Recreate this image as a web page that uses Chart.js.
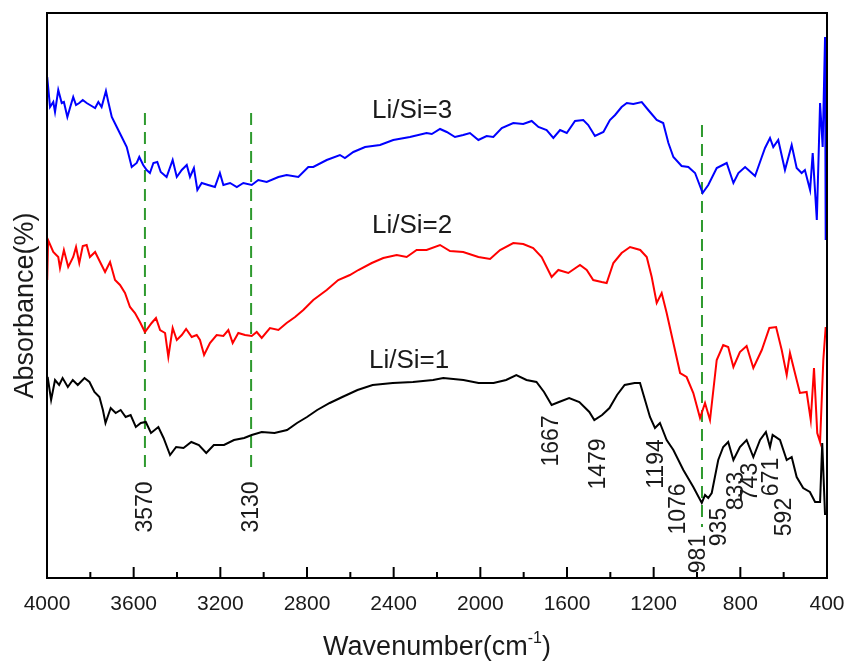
<!DOCTYPE html>
<html>
<head>
<meta charset="utf-8">
<script src="https://cdn.jsdelivr.net/npm/chart.js@4/dist/chart.umd.min.js"></script>
<style>
  html, body { margin: 0; padding: 0; background: #ffffff; }
  #wrap { width: 848px; height: 663px; }
</style>
</head>
<body>
<div id="wrap"><canvas id="c" width="848" height="663"></canvas></div>
<script>
// ---- Data (wavenumber in cm-1, absorbance in arbitrary units) ----
const li3Wavenumber = [3999,3986,3971,3963,3948,3932,3922,3906,3894,3879,3866,3851,3835,3817,3794,3778,3763,3748,3728,3717,3701,3678,3655,3632,3609,3586,3574,3556,3540,3525,3509,3491,3475,3448,3420,3401,3378,3355,3340,3322,3306,3286,3256,3225,3202,3186,3155,3124,3094,3055,3025,2986,2932,2894,2840,2794,2771,2709,2648,2625,2586,2532,2463,2402,2325,2248,2224,2186,2155,2117,2079,2048,2009,1971,1940,1901,1848,1802,1763,1732,1694,1663,1632,1601,1563,1525,1502,1471,1432,1402,1378,1348,1324,1294,1255,1225,1186,1156,1132,1109,1071,1040,1009,974,948,909,863,832,809,778,732,701,686,663,648,625,594,563,540,517,502,478,466,447,432,420,409,407,405];
const li3Absorbance = [501,471,476,466,488,475,476,461,470,481,473,475,478,475,472,470,476,471,487,476,461,451,441,431,411,415,421,413,408,405,415,416,406,401,418,401,408,413,401,410,388,395,393,391,405,393,395,391,395,393,398,396,401,403,401,411,411,418,423,420,426,431,433,438,441,445,444,449,446,441,443,445,438,442,441,450,455,454,457,451,448,440,448,445,457,458,453,442,446,458,463,471,475,474,476,468,458,455,435,421,412,411,405,385,393,410,415,395,405,411,402,421,430,440,431,438,408,433,410,405,408,388,425,358,475,431,541,338,450];

const li2Wavenumber = [3999,3995,3971,3948,3940,3922,3902,3879,3866,3851,3835,3817,3802,3778,3755,3732,3709,3686,3663,3640,3617,3594,3571,3548,3517,3497,3478,3455,3440,3420,3401,3378,3358,3332,3309,3294,3275,3248,3217,3186,3163,3143,3117,3086,3055,3032,3009,2971,2932,2894,2855,2817,2771,2709,2656,2602,2563,2501,2448,2386,2340,2294,2248,2186,2140,2079,2009,1955,1909,1848,1802,1756,1717,1671,1640,1594,1540,1509,1479,1440,1417,1386,1348,1309,1262,1232,1209,1186,1163,1140,1109,1078,1048,1017,986,963,940,909,879,856,832,802,771,740,701,666,635,609,586,571,548,525,494,475,460,445,432,417,406];
const li2Absorbance = [298,338,326,321,310,328,311,321,331,315,332,333,321,326,316,306,316,298,293,285,271,265,256,246,255,260,248,245,221,250,238,243,249,241,243,238,223,235,243,242,248,235,245,243,242,246,240,250,248,255,261,268,278,288,298,303,308,315,320,323,321,328,328,333,327,326,321,319,328,335,334,330,321,301,308,305,313,308,298,296,295,315,325,331,328,321,301,275,285,265,235,205,201,185,160,175,158,218,233,231,211,226,232,210,228,250,251,228,203,225,205,185,186,158,210,145,136,218,251];

const li1Wavenumber = [3997,3981,3963,3944,3928,3904,3881,3858,3827,3804,3781,3758,3742,3730,3706,3683,3660,3637,3614,3590,3567,3544,3520,3486,3462,3432,3404,3370,3334,3299,3265,3230,3183,3137,3090,3055,3009,2950,2892,2846,2800,2753,2695,2637,2567,2497,2404,2311,2218,2171,2078,2008,1939,1881,1834,1787,1741,1706,1671,1637,1590,1543,1497,1474,1438,1404,1369,1334,1288,1263,1217,1194,1171,1140,1109,1063,1017,978,963,948,932,902,879,856,832,802,771,740,709,682,663,651,617,586,563,540,510,479,455,432,422,409];
const li1Absorbance = [201,178,198,193,200,191,198,193,200,196,186,181,168,155,170,165,168,161,163,151,155,156,145,151,140,123,131,130,136,133,125,133,133,138,140,143,146,145,148,155,161,168,175,181,188,193,195,196,198,200,198,195,195,198,203,198,196,186,173,176,180,176,166,158,163,170,183,193,195,195,161,150,155,138,128,108,91,75,83,80,85,118,131,136,118,131,138,121,138,146,131,143,138,118,121,101,90,86,76,76,135,63];

// Reference (dashed) lines: wavenumber position and vertical extent
const guideWavenumber = [3548, 3058, 977];
const guideTop = [465, 465, 453];
const guideBottom = [110, 110, 51];

// Tick labels on the wavenumber axis
const tickValues = [4000, 3600, 3200, 2800, 2400, 2000, 1600, 1200, 800, 400];
const minorTickValues = [3800, 3400, 3000, 2600, 2200, 1800, 1400, 1000, 600];

// Series labels and peak labels (text, wavenumber, absorbance anchor)
const seriesLabels = ['Li/Si=3', 'Li/Si=2', 'Li/Si=1'];
const seriesLabelWn = [2315, 2315, 2329];
const seriesLabelAbs = [467, 352, 217];
const peakLabels = ['3570','3130','1667','1479','1194','1076','981','935','833','743','671','592'];
const peakLabelWn = [3548,3058,1674,1457,1189,1088,995,898,820,755,658,598];
const peakLabelAbs = [71,71,137,114,114,69,24,51,87,96,101,61];

// ---- Build chart ----
const FONT = '"Liberation Sans", Arial, Helvetica, sans-serif';
const TEXT = '#1a1a1a';

function pts(xs, ys) { return xs.map((x, i) => ({ x: x, y: ys[i] })); }

const datasets = [
  { label: 'Li/Si=3', data: pts(li3Wavenumber, li3Absorbance), borderColor: '#0000ff', borderWidth: 2, pointRadius: 0, tension: 0 },
  { label: 'Li/Si=2', data: pts(li2Wavenumber, li2Absorbance), borderColor: '#ff0000', borderWidth: 2, pointRadius: 0, tension: 0 },
  { label: 'Li/Si=1', data: pts(li1Wavenumber, li1Absorbance), borderColor: '#000000', borderWidth: 2, pointRadius: 0, tension: 0 }
];
guideWavenumber.forEach((wn, i) => {
  datasets.push({
    label: 'guide' + i,
    data: [{ x: wn, y: guideTop[i] }, { x: wn, y: guideBottom[i] }],
    borderColor: '#2e9a2e', borderWidth: 2, borderDash: [12, 7], pointRadius: 0, tension: 0
  });
});

const framePlugin = {
  id: 'frame',
  afterDatasetsDraw(chart) {
    const ctx = chart.ctx;
    const a = chart.chartArea;
    const xs = chart.scales.x, ys = chart.scales.y;
    ctx.save();
    // annotations
    ctx.fillStyle = TEXT;
    ctx.textAlign = 'center';
    ctx.textBaseline = 'middle';
    ctx.font = '26px ' + FONT;
    seriesLabels.forEach((t, i) => {
      ctx.fillText(t, xs.getPixelForValue(seriesLabelWn[i]), ys.getPixelForValue(seriesLabelAbs[i]));
    });
    ctx.font = '23px ' + FONT;
    peakLabels.forEach((t, i) => {
      ctx.save();
      ctx.translate(xs.getPixelForValue(peakLabelWn[i]), ys.getPixelForValue(peakLabelAbs[i]));
      ctx.rotate(-Math.PI / 2);
      ctx.fillText(t, 0, 1);
      ctx.restore();
    });
    // frame
    ctx.strokeStyle = '#000';
    ctx.lineWidth = 2;
    ctx.strokeRect(a.left, a.top, a.right - a.left, a.bottom - a.top);
    // inward ticks
    ctx.beginPath();
    tickValues.forEach(v => {
      const x = xs.getPixelForValue(v);
      ctx.moveTo(x, a.bottom); ctx.lineTo(x, a.bottom - 11);
    });
    minorTickValues.forEach(v => {
      const x = xs.getPixelForValue(v);
      ctx.moveTo(x, a.bottom); ctx.lineTo(x, a.bottom - 6);
    });
    ctx.stroke();
    // axis titles
    ctx.fillStyle = TEXT;
    ctx.textBaseline = 'alphabetic';
    ctx.textAlign = 'left';
    const main = 'Wavenumber(cm', sup = '-1', close = ')';
    ctx.font = '27px ' + FONT;
    const w1 = ctx.measureText(main).width;
    const w3 = ctx.measureText(close).width;
    ctx.font = '16px ' + FONT;
    const w2 = ctx.measureText(sup).width;
    const total = w1 + w2 + w3;
    const cx = (a.left + a.right) / 2;
    let x0 = cx - total / 2;
    const base = 655;
    ctx.font = '27px ' + FONT;
    ctx.fillText(main, x0, base);
    ctx.font = '16px ' + FONT;
    ctx.fillText(sup, x0 + w1, base - 12);
    ctx.font = '27px ' + FONT;
    ctx.fillText(close, x0 + w1 + w2, base);
    // y title
    ctx.save();
    ctx.translate(33, (a.top + a.bottom) / 2 + 10);
    ctx.rotate(-Math.PI / 2);
    ctx.textAlign = 'center';
    ctx.font = '27px ' + FONT;
    ctx.fillText('Absorbance(%)', 0, 0);
    ctx.restore();
    ctx.restore();
  }
};

new Chart(document.getElementById('c'), {
  type: 'line',
  data: { datasets: datasets },
  options: {
    responsive: false,
    animation: false,
    events: [],
    layout: { padding: { left: 47, right: 21, top: 13, bottom: 0 } },
    plugins: { legend: { display: false }, tooltip: { enabled: false } },
    scales: {
      x: {
        type: 'linear',
        min: 400, max: 4000, reverse: true,
        grid: { display: false, drawTicks: false },
        border: { display: false },
        afterBuildTicks: s => { s.ticks = tickValues.map(v => ({ value: v })); },
        afterFit: s => { s.height = 85; s.paddingLeft = 0; s.paddingRight = 0; },
        ticks: {
          autoSkip: false, maxRotation: 0, padding: 14,
          color: TEXT,
          font: { family: FONT, size: 21 },
          callback: v => String(v)
        }
      },
      y: { type: 'linear', min: 0, max: 565, display: false }
    }
  },
  plugins: [framePlugin]
});
</script>
</body>
</html>
